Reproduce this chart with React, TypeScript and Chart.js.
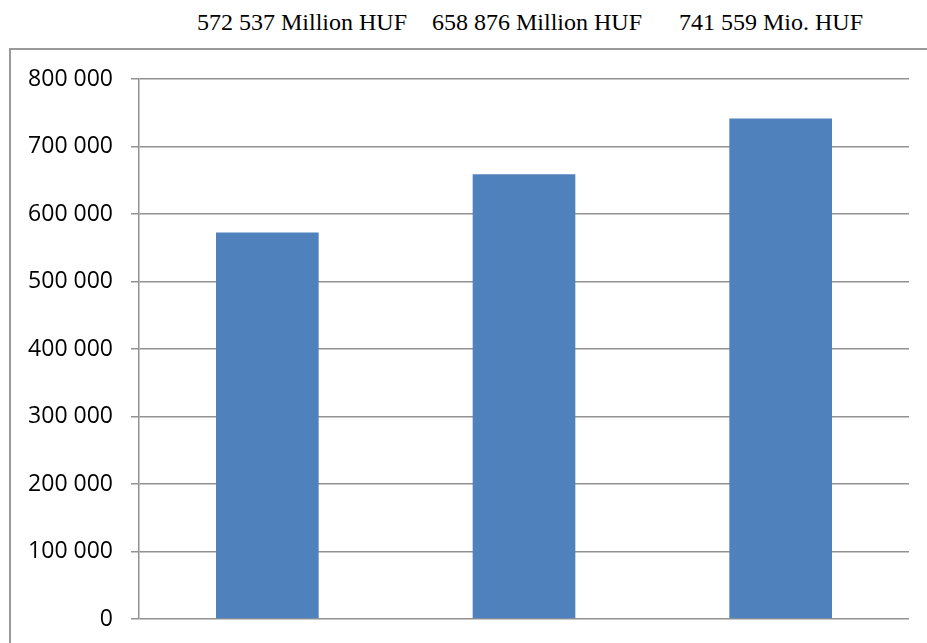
import React, { useEffect, useRef } from "react";
import { Chart, registerables } from "chart.js";

Chart.register(...registerables);

const categories = ["2012", "2013", "2014"];
const values = [572537, 658876, 741559];
const topLabels = ["572 537 Million HUF", "658 876 Million HUF", "741 559 Mio. HUF"];
const tickValues = [0, 100000, 200000, 300000, 400000, 500000, 600000, 700000, 800000];

const fmt = (v: number) => {
  if (v === 0) return "0";
  const s = String(Math.round(v));
  return s.replace(/\B(?=(\d{3})+(?!\d))/g, " ");
};

export default function App() {
  const ref = useRef<HTMLCanvasElement | null>(null);

  useEffect(() => {
    if (!ref.current) return;
    const grid = "#929292";
    const chart = new Chart(ref.current, {
      type: "bar",
      data: {
        labels: categories,
        datasets: [
          {
            data: values,
            backgroundColor: "#4f81bd",
            borderWidth: 0,
            barPercentage: 0.4,
            categoryPercentage: 1,
          },
        ],
      },
      options: {
        animation: false,
        responsive: false,
        maintainAspectRatio: false,
        layout: { padding: { left: 0, top: 79, right: 18, bottom: 24 } },
        plugins: { legend: { display: false }, tooltip: { enabled: false }, title: { display: false } },
        scales: {
          x: { display: false },
          y: {
            min: 0,
            max: 800000,
            afterFit: (scale: any) => {
              scale.width = 139;
              scale.paddingTop = 0;
              scale.paddingBottom = 0;
            },
            afterBuildTicks: (scale: any) => {
              scale.ticks = tickValues.map((v) => ({ value: v }));
            },
            ticks: {
              padding: 18,
              color: "#000",
              font: { family: "'Open Sans', sans-serif", size: 23 },
              callback: (v: any) => fmt(Number(v)),
            },
            grid: {
              color: grid,
              lineWidth: 1.5,
              tickLength: 8,
              drawTicks: true,
            },
            border: { color: grid, width: 1.5 },
          },
        },
      },
    });
    return () => chart.destroy();
  }, []);

  const labelPos = [197, 432, 679];

  return (
    <div
      style={{
        position: "fixed",
        left: 0,
        top: 0,
        width: 927,
        height: 643,
        overflow: "hidden",
        background: "#fff",
      }}
    >
      <div
        style={{
          position: "absolute",
          left: 9,
          top: 48,
          width: 1000,
          height: 700,
          border: "2px solid #9a9a9a",
        }}
      />
      {topLabels.map((t, i) => (
        <span
          key={i}
          style={{
            position: "absolute",
            left: labelPos[i],
            top: 8,
            fontFamily: "'Liberation Serif', 'Times New Roman', serif",
            fontSize: 24,
            lineHeight: "28px",
            whiteSpace: "nowrap",
            color: "#000",
          }}
        >
          {t}
        </span>
      ))}
      <canvas
        ref={ref}
        width={927}
        height={643}
        style={{ position: "absolute", left: 0, top: 0, width: 927, height: 643 }}
      />
    </div>
  );
}
